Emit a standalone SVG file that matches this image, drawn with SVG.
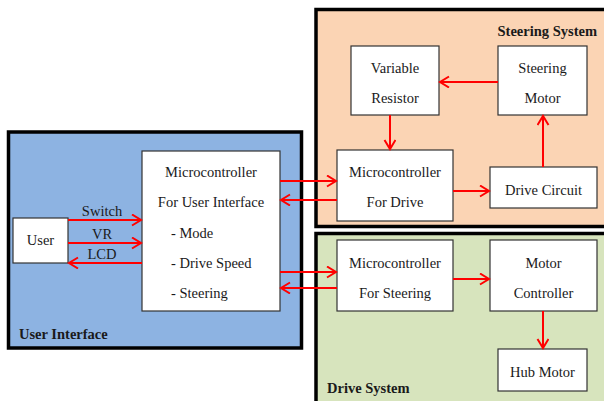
<svg xmlns="http://www.w3.org/2000/svg" width="604" height="401" viewBox="0 0 604 401">
<style>
text{font-family:"Times New Roman","Liberation Serif",serif;font-size:14.5px;fill:#1a1a1a}
.c{text-anchor:middle}
.b{font-weight:bold}
.node{fill:#fff;stroke:#333;stroke-width:1.2}
.panel{stroke:#000;stroke-width:3.5}
.a{stroke:#f00;stroke-width:2;fill:none;marker-end:url(#ah)}
</style>
<defs>
<marker id="ah" markerUnits="userSpaceOnUse" markerWidth="12" markerHeight="14" refX="10" refY="6" orient="auto">
<path d="M1,0.5 L10,6 L1,11.5" fill="none" stroke="#f00" stroke-width="2"/>
</marker>
</defs>
<rect width="604" height="401" fill="#fff"/>
<g id="panel-ui">
<rect class="panel" x="8.5" y="132" width="293" height="216" fill="#8DB3E2"/>
<text class="b" x="19" y="339">User Interface</text>
</g>
<g id="panel-steering">
<rect class="panel" x="316" y="9.5" width="300" height="217" fill="#FBD4B4"/>
<text class="b" x="597" y="36" text-anchor="end">Steering System</text>
</g>
<g id="panel-drive">
<rect class="panel" x="316" y="233.5" width="300" height="180" fill="#D7E4BD"/>
<text class="b" x="327" y="393">Drive System</text>
</g>
<g id="user">
<rect class="node" x="13" y="218" width="55" height="45"/>
<text class="c" x="40.5" y="245">User</text>
</g>
<g id="mcu-ui">
<rect class="node" x="142" y="151" width="138" height="160"/>
<text class="c" x="211" y="177">Microcontroller</text>
<text class="c" x="211" y="207">For User Interface</text>
<text x="171" y="237.5">- Mode</text>
<text x="171" y="267.5">- Drive Speed</text>
<text x="171" y="297.5">- Steering</text>
</g>
<g id="variable-resistor">
<rect class="node" x="351" y="46" width="88" height="69"/>
<text class="c" x="395" y="73">Variable</text>
<text class="c" x="395" y="103">Resistor</text>
</g>
<g id="steering-motor">
<rect class="node" x="498" y="46" width="89" height="69"/>
<text class="c" x="542.5" y="73">Steering</text>
<text class="c" x="542.5" y="103">Motor</text>
</g>
<g id="mcu-drive">
<rect class="node" x="337" y="150" width="116" height="71"/>
<text class="c" x="395" y="177">Microcontroller</text>
<text class="c" x="395" y="207">For Drive</text>
</g>
<g id="drive-circuit">
<rect class="node" x="490" y="167" width="107" height="41"/>
<text class="c" x="543.5" y="195">Drive Circuit</text>
</g>
<g id="mcu-steering">
<rect class="node" x="337" y="240" width="116" height="71"/>
<text class="c" x="395" y="268">Microcontroller</text>
<text class="c" x="395" y="298">For Steering</text>
</g>
<g id="motor-controller">
<rect class="node" x="490" y="240" width="107" height="71"/>
<text class="c" x="543.5" y="268">Motor</text>
<text class="c" x="543.5" y="298">Controller</text>
</g>
<g id="hub-motor">
<rect class="node" x="498" y="349" width="89" height="42"/>
<text class="c" x="542.5" y="377">Hub Motor</text>
</g>
<g id="connectors">
<line class="a" x1="68" y1="220" x2="141" y2="220"/>
<line class="a" x1="68" y1="243" x2="141" y2="243"/>
<line class="a" x1="142" y1="263" x2="69" y2="263"/>
<line class="a" x1="280" y1="181" x2="336" y2="181"/>
<line class="a" x1="337" y1="200" x2="281" y2="200"/>
<line class="a" x1="280" y1="272" x2="336" y2="272"/>
<line class="a" x1="337" y1="288" x2="281" y2="288"/>
<line class="a" x1="498" y1="82" x2="440" y2="82"/>
<line class="a" x1="390" y1="115" x2="390" y2="149"/>
<line class="a" x1="453" y1="191" x2="489" y2="191"/>
<line class="a" x1="543" y1="167" x2="543" y2="116"/>
<line class="a" x1="453" y1="279" x2="489" y2="279"/>
<line class="a" x1="543" y1="311" x2="543" y2="348"/>
</g>
<g id="connector-labels">
<text class="c" x="102" y="216">Switch</text>
<text class="c" x="102" y="239">VR</text>
<text class="c" x="102" y="259">LCD</text>
</g>
</svg>
